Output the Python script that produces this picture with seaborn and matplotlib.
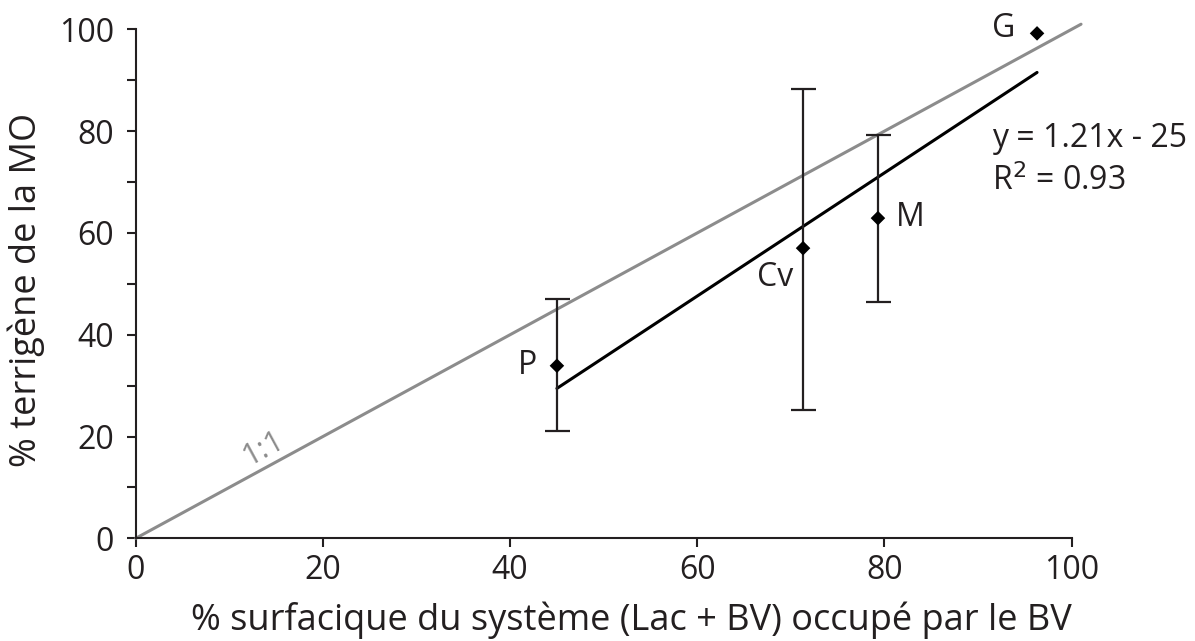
import matplotlib
matplotlib.use("Agg")
import matplotlib.pyplot as plt
from matplotlib.ticker import MultipleLocator
import numpy as np
import pandas as pd
import seaborn as sns

# Sites and their measurements
sites = ["P", "Cv", "M", "G"]
surface_bv = [45.0, 71.3, 79.3, 96.3]          # % of system area occupied by the watershed
terrigenous = [33.9, 57.0, 62.9, 99.2]         # % terrigenous organic matter
err_low = [21.1, 25.2, 46.4, None]             # lower bound of range
err_high = [47.0, 88.2, 79.2, None]            # upper bound of range

# Linear fit reported on the chart
slope = 1.21
intercept = -25
r_squared = 0.93

x_ticks = [0, 20, 40, 60, 80, 100]
y_ticks = [0, 20, 40, 60, 80, 100]

sns.set_theme(style="ticks")
plt.rcParams["font.family"] = ["Open Sans", "DejaVu Sans"]

dark = "#231f20"
grey = "#8c8c8c"
fs = 23

fig = plt.figure(figsize=(11.95, 6.41), dpi=100)
ax = fig.add_axes([0.1136, 0.1602, 0.7832, 0.7941])

df = pd.DataFrame({"site": sites, "x": surface_bv, "y": terrigenous})

# 1:1 reference line
one = pd.DataFrame({"x": [0, 101], "y": [0, 101]})
sns.lineplot(data=one, x="x", y="y", ax=ax, color=grey, linewidth=2.2,
             clip_on=False, zorder=1)

# Regression line over the range of the data
fx = np.array([min(surface_bv), max(surface_bv)])
fit = pd.DataFrame({"x": fx, "y": slope * fx + intercept})
sns.lineplot(data=fit, x="x", y="y", ax=ax, color="black", linewidth=2.2, zorder=2)

# Ranges as error bars
for xv, yv, lo, hi in zip(surface_bv, terrigenous, err_low, err_high):
    if lo is None:
        continue
    ax.errorbar([xv], [yv], yerr=[[yv - lo], [hi - yv]], fmt="none",
                ecolor=dark, elinewidth=1.6, capsize=9, capthick=1.6, zorder=3)

sns.scatterplot(data=df, x="x", y="y", ax=ax, marker="D", s=55, color="black",
                edgecolor="none", zorder=4, clip_on=False)

# Site labels
label_pos = {"P": (41.9, 33.9), "Cv": (68.3, 51.2), "M": (82.7, 63.0), "G": (92.7, 100.2)}
for s in sites:
    lx, ly = label_pos[s]
    ax.text(lx, ly, s, fontsize=fs, color=dark, ha="center", va="center")

ax.text(91.5, 78.6, f"y = {slope}x - {abs(intercept)}", fontsize=fs, color=dark,
        ha="left", va="center")
ax.text(91.5, 70.1, f"R$^{{2}}$ = {r_squared}", fontsize=fs, color=dark,
        ha="left", va="center")

ax.text(13.6, 17.7, "1:1", fontsize=22, color=grey, ha="center", va="center",
        rotation=28.5, rotation_mode="anchor")

ax.set_xlim(0, 100)
ax.set_ylim(0, 100)
ax.set_xticks(x_ticks)
ax.set_yticks(y_ticks)
ax.yaxis.set_minor_locator(MultipleLocator(10))
ax.tick_params(axis="both", which="both", direction="out", length=6.5, width=1.5,
               color=dark, labelsize=fs, labelcolor=dark)
ax.tick_params(axis="y", which="both", pad=9)
ax.tick_params(axis="x", which="both", pad=5)

ax.set_xlabel("% surfacique du système (Lac + BV) occupé par le BV", fontsize=26,
              color=dark)
ax.set_ylabel("% terrigène de la MO", fontsize=26, color=dark)
ax.xaxis.set_label_coords(0.53, -0.125)
ax.yaxis.set_label_coords(-0.097, 0.488)

sns.despine(ax=ax)
for sp in ("left", "bottom"):
    ax.spines[sp].set_color(dark)
    ax.spines[sp].set_linewidth(1.5)

fig.savefig("out.png", dpi=100, facecolor="white")
